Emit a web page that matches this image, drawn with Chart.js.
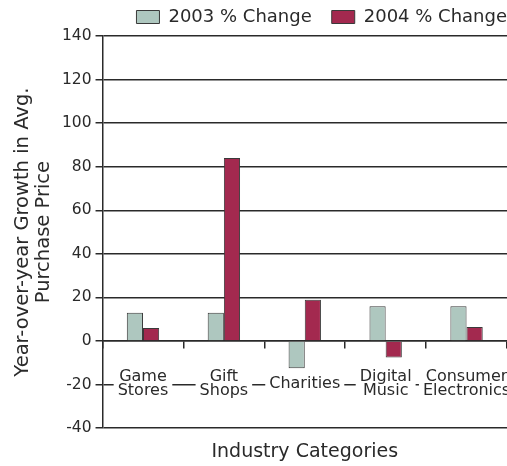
<!DOCTYPE html>
<html>
<head>
<meta charset="utf-8">
<script src="https://cdn.jsdelivr.net/npm/chart.js@4"></script>
<style>
  html, body { margin: 0; padding: 0; background: #fff; }
  canvas { display: block; }
</style>
</head>
<body>
<canvas id="chart" width="507" height="466"></canvas>
<script>
const categories = [['Game', 'Stores'], ['Gift', 'Shops'], 'Charities', ['Digital', 'Music'], ['Consumer', 'Electronics']];
const change2003 = [13, 13, -12.5, 16, 16];
const change2004 = [6, 84, 19, -7.5, 6.5];
const yTicks = [-40, -20, 0, 20, 40, 60, 80, 100, 120, 140];

const FONT = 'DejaVu Sans';
const INK = '#2a2a2a';
const CAT_SIZE = 16;
const CAT_LINE = 14;
const LEGEND_GAP = 20;

// white patches behind the category names so the -20 line shows only between them
const labelPatches = {
  id: 'labelPatches',
  afterDatasetsDraw(chart) {
    const x = chart.scales.x;
    const y = chart.scales.y;
    const ctx = chart.ctx;
    const mid = y.getPixelForValue(0) + x.options.grid.tickLength + x.options.ticks.padding + CAT_LINE / 2;
    ctx.save();
    ctx.font = CAT_SIZE + 'px "' + FONT + '"';
    ctx.fillStyle = '#ffffff';
    categories.forEach((lab, i) => {
      const lines = Array.isArray(lab) ? lab : [lab];
      const w = Math.max(...lines.map(s => ctx.measureText(s).width)) + 8;
      const h = lines.length * CAT_LINE + 4;
      ctx.fillRect(x.getPixelForTick(i) - w / 2, mid - h / 2, w, h);
    });
    ctx.restore();
  }
};

// legend runs right up to the edge (drop the trailing item gap)
const legendEdge = {
  id: 'legendEdge',
  afterLayout(chart) {
    chart.legend.right += LEGEND_GAP;
  }
};

document.addEventListener('DOMContentLoaded', () => {
  const ctx = document.getElementById('chart').getContext('2d');

  new Chart(ctx, {
    type: 'bar',
    data: {
      labels: categories,
      datasets: [{
        label: '2003 % Change',
        data: change2003,
        backgroundColor: '#aec7bf',
        borderColor: '#3a3a3a',
        borderWidth: 1
      }, {
        label: '2004 % Change',
        data: change2004,
        backgroundColor: '#a3294f',
        borderColor: '#3a3a3a',
        borderWidth: 1
      }]
    },
    plugins: [labelPatches, legendEdge],
    options: {
      responsive: false,
      animation: false,
      layout: { padding: { left: 13, right: 0, top: -12, bottom: 0 } },
      datasets: {
        bar: { barPercentage: 1, categoryPercentage: 0.4 }
      },
      plugins: {
        tooltip: { enabled: false },
        legend: {
          position: 'top',
          align: 'end',
          labels: {
            font: { family: FONT, size: 18 },
            color: INK,
            boxWidth: 23,
            boxHeight: 13,
            padding: LEGEND_GAP
          }
        },
        title: {
          display: true,
          position: 'bottom',
          fullSize: false,
          text: 'Industry Categories',
          color: INK,
          font: { family: FONT, size: 19, weight: 'normal', lineHeight: 1.2 },
          padding: { top: 12, bottom: 3 }
        }
      },
      scales: {
        x: {
          position: { y: 0 },
          offset: true,
          afterFit: (scale) => { scale.paddingLeft = 0; scale.paddingRight = 0; },
          grid: {
            drawOnChartArea: false,
            drawTicks: true,
            tickLength: 7,
            color: INK,
            lineWidth: 1.5
          },
          border: { color: INK, width: 1.5 },
          ticks: {
            z: 1,
            font: { family: FONT, size: CAT_SIZE, lineHeight: CAT_LINE / CAT_SIZE },
            color: INK,
            padding: 29,
            crossAlign: 'center',
            maxRotation: 0,
            autoSkip: false
          }
        },
        y: {
          min: yTicks[0],
          max: yTicks[yTicks.length - 1],
          afterBuildTicks: (axis) => { axis.ticks = yTicks.map(v => ({ value: v })); },
          grid: {
            color: INK,
            lineWidth: 1.5,
            tickLength: 7
          },
          border: { color: INK, width: 1.5 },
          ticks: {
            font: { family: FONT, size: 15.5 },
            color: INK,
            padding: 4
          },
          title: {
            display: true,
            text: ['Year-over-year Growth in Avg.', 'Purchase Price'],
            color: INK,
            font: { family: FONT, size: 19.5, lineHeight: 1.05 },
            padding: { top: 0, bottom: 4 }
          }
        }
      }
    }
  });
});
</script>
</body>
</html>
